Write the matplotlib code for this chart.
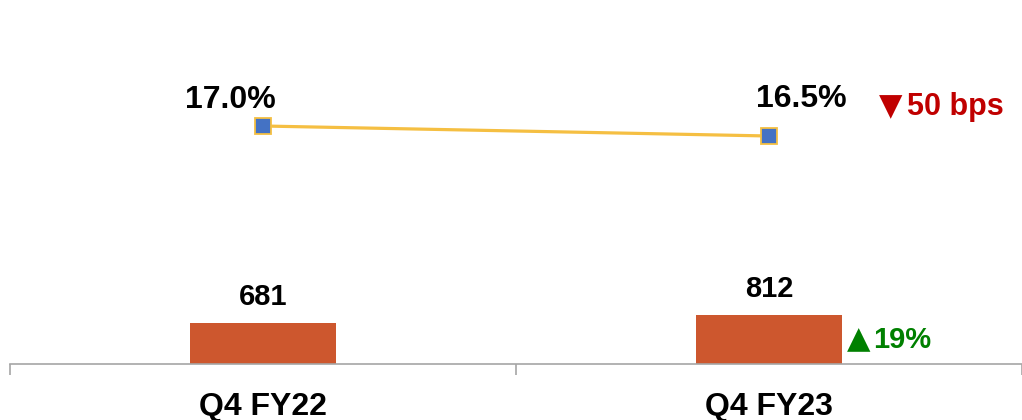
import matplotlib
matplotlib.use("Agg")
import matplotlib.pyplot as plt

plt.rcParams['font.family'] = ['Liberation Sans', 'DejaVu Sans']

quarters = ['Q4 FY22', 'Q4 FY23']
revenue = [681, 812]
margin = [17.0, 16.5]
revenue_change = '19%'
margin_change = '50 bps'

bar_color = '#CD572E'
line_color = '#F5BF42'
marker_color = '#4472C4'
up_color = '#008000'
down_color = '#C00000'

fig = plt.figure(figsize=(10.22, 4.2), dpi=100)
ax = fig.add_axes([10 / 1022, 56 / 420, 1012 / 1022, 364 / 420])
x = list(range(len(quarters)))
bar_w = 0.287

# Revenue bars
ax.bar(x, revenue, width=bar_w, color=bar_color, zorder=2)
ax.set_ylim(0, 6000)
ax.set_xlim(-0.5, 1.5)

for xi, v in zip(x, revenue):
    ax.annotate(f'{v}', xy=(xi, v), xytext=(0, 18), textcoords='offset pixels',
                ha='center', va='baseline', fontsize=21, fontweight='bold')

# growth marker next to the latest bar
corner = (x[1] + bar_w / 2, revenue[1])
ax.annotate('▲', xy=corner, xytext=(5, -33), textcoords='offset pixels',
            ha='left', va='baseline', fontsize=22, family='DejaVu Sans', color=up_color)
ax.annotate(revenue_change, xy=corner, xytext=(32, -33), textcoords='offset pixels',
            ha='left', va='baseline', fontsize=21, fontweight='bold', color=up_color)

# Axis styling: only bottom line with category boundary ticks
for s in ['top', 'right', 'left']:
    ax.spines[s].set_visible(False)
ax.spines['bottom'].set_color('#A6A6A6')
ax.spines['bottom'].set_linewidth(1.2)
ax.set_yticks([])
ax.set_xticks([-0.5, 0.5, 1.5])
ax.set_xticklabels([])
ax.tick_params(axis='x', length=8, width=1.2, color='#A6A6A6', direction='out')
for xi, q in zip(x, quarters):
    ax.annotate(q, xy=(xi, 0), xycoords=('data', 'axes fraction'), xytext=(0, -51),
                textcoords='offset pixels', ha='center', va='baseline',
                fontsize=23, fontweight='bold')

# Margin line on secondary axis
ax2 = ax.twinx()
ax2.set_ylim(5.1, 5.1 + 364 * 0.05)
ax2.plot(x, margin, color=line_color, linewidth=2.3, marker='s', markersize=12,
         markerfacecolor=marker_color, markeredgecolor=line_color, markeredgewidth=1.3,
         zorder=3)
ax2.set_axis_off()

label_offsets = [(-33, 18), (32, 29)]
for xi, v, off in zip(x, margin, label_offsets):
    ax2.annotate(f'{v:.1f}%', xy=(xi, v), xytext=off, textcoords='offset pixels',
                 ha='center', va='baseline', fontsize=23, fontweight='bold')

ax2.annotate('▼', xy=(x[1], margin[1]), xytext=(110, 21), textcoords='offset pixels',
             ha='left', va='baseline', fontsize=22, family='DejaVu Sans', color=down_color)
ax2.annotate(margin_change, xy=(x[1], margin[1]), xytext=(138, 21),
             textcoords='offset pixels', ha='left', va='baseline',
             fontsize=22, fontweight='bold', color=down_color)

fig.savefig('out.png', dpi=100)
